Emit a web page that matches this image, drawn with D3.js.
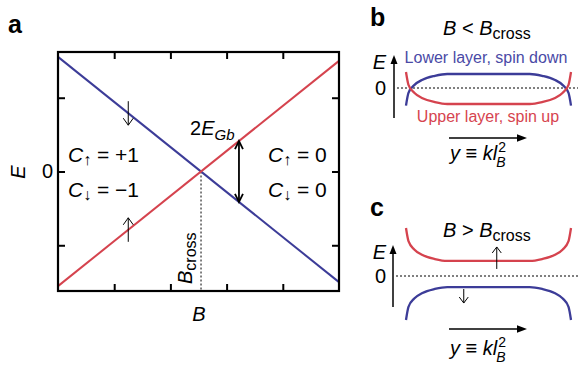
<!DOCTYPE html>
<html><head><meta charset="utf-8">
<script src="https://cdn.jsdelivr.net/npm/d3@7"></script>
<style>
html,body{margin:0;padding:0;background:#fff;}
svg text{font-family:"Liberation Sans",Arial,Helvetica,sans-serif;fill:#000;}
</style></head>
<body>
<svg id="chart" width="578" height="368"></svg>
<script>
// ---------------- DATA ----------------
// Panel a: energies of the two lines across the B range
const bField = [0, 5];
const lowerLayerE = [1.554, -1.50];   // blue (spin down)
const upperLayerE = [-1.554, 1.50];   // red (spin up)
const bCross = 2.545;
const gapB = 3.22;                    // position of the 2E_Gb arrow
const spinArrowB = [1.25, 1.25];
const spinArrowDir = ["down", "up"];
const xTicks = [1, 2, 3, 4];
const yTicks = [-1, 0, 1];
const yTickLabels = ["", "0", ""];

// Panels b, c: edge-state dispersion along y = k l_B^2
const bandK = [-1, -0.97, -0.9, -0.8, -0.65, -0.5, 0.5, 0.65, 0.8, 0.9, 0.97, 1];
const bLowerE = [-1.1, -0.31, 0.18, 0.52, 0.76, 0.875, 0.875, 0.76, 0.52, 0.18, -0.31, -1.1];
const bUpperE = [1.0, 0.2, -0.3, -0.64, -0.88, -1.0, -1.0, -0.88, -0.64, -0.3, 0.2, 1.0];
const cUpperE = [3.0, 2.18, 1.66, 1.31, 1.06, 0.94, 0.94, 1.06, 1.31, 1.66, 2.18, 3.0];
const cLowerE = [-2.75, -1.93, -1.41, -1.06, -0.81, -0.69, -0.69, -0.81, -1.06, -1.41, -1.93, -2.75];
const cSpinArrowK = [0.1, -0.3];
const cSpinArrowE = [0.94, -0.69];
const cSpinArrowDir = ["up", "down"];

// ---------------- STYLE ----------------
const BLUE = "#3c3c98";
const RED = "#d5434e";
const BLUE_TXT = "#4a4aa6";
const RED_TXT = "#d6444f";
const FONT = '"Liberation Sans",Arial,Helvetica,sans-serif';

const svg = d3.select("#chart");

function rich(g, x, y, parts, opts = {}) {
  const t = g.append("text").attr("x", x).attr("y", y)
    .attr("font-size", opts.size || 21)
    .attr("text-anchor", opts.anchor || "start");
  if (opts.transform) t.attr("transform", opts.transform).attr("x", 0).attr("y", 0);
  if (opts.fill) t.style("fill", opts.fill);
  parts.forEach(p => {
    const s = t.append("tspan").text(p.t);
    if (p.i) s.attr("font-style", "italic");
    if (p.size) s.attr("font-size", p.size);
    if (p.dy) s.attr("dy", p.dy);
    if (p.dx) s.attr("dx", p.dx);
    if (p.fill) s.style("fill", p.fill);
  });
  return t;
}
function chevron(g, x, y, dir, hw, hl, w, color) {
  const s = dir === "up" ? 1 : -1;
  g.append("path")
    .attr("d", `M${x - hw},${y + s * hl}L${x},${y}L${x + hw},${y + s * hl}`)
    .attr("fill", "none").attr("stroke", color || "#000").attr("stroke-width", w)
    .attr("stroke-linejoin", "miter");
}
function vArrow(g, x, y0, y1, w) { // y1 tip, filled head
  g.append("line").attr("x1", x).attr("x2", x).attr("y1", y0).attr("y2", y1 + 6)
    .attr("stroke", "#000").attr("stroke-width", w);
  const s = y1 < y0 ? 1 : -1;
  g.append("path").attr("d", `M${x},${y1}L${x - 3.5},${y1 + s * 9}L${x + 3.5},${y1 + s * 9}Z`).attr("fill", "#000");
}
function hArrow(g, x0, x1, y, w) {
  g.append("line").attr("x1", x0).attr("x2", x1 - 6).attr("y1", y).attr("y2", y)
    .attr("stroke", "#000").attr("stroke-width", w);
  g.append("path").attr("d", `M${x1},${y}L${x1 - 10},${y - 3.8}L${x1 - 10},${y + 3.8}Z`).attr("fill", "#000");
}

// ================= PANEL A =================
const gA = svg.append("g");
const x = d3.scaleLinear().domain([0, 5]).range([58, 339]);
const y = d3.scaleLinear().domain([-1.62, 1.62]).range([291, 52]);

gA.append("text").attr("x", 8).attr("y", 33).attr("font-size", 25).attr("font-weight", "bold").text("a");

// axes with inward ticks
const mk = (ax, tr) => {
  const a = gA.append("g").attr("transform", tr).call(ax);
  a.select(".domain").remove();
  a.selectAll(".tick line").attr("stroke", "#000").attr("stroke-width", 2);
  a.selectAll("text").attr("font-size", 20).attr("font-family", FONT).style("fill", "#000");
  return a;
};
mk(d3.axisBottom(x).tickValues(xTicks).tickSizeInner(-7).tickSizeOuter(0).tickFormat(""), `translate(0,${y.range()[0]})`);
mk(d3.axisTop(x).tickValues(xTicks).tickSizeInner(-7).tickSizeOuter(0).tickFormat(""), `translate(0,${y.range()[1]})`);
mk(d3.axisLeft(y).tickValues(yTicks).tickSizeInner(-7).tickSizeOuter(0).tickPadding(5)
  .tickFormat((d, i) => yTickLabels[i]), `translate(${x.range()[0]},0)`);
mk(d3.axisRight(y).tickValues(yTicks).tickSizeInner(-7).tickSizeOuter(0).tickFormat(""), `translate(${x.range()[1]},0)`);

// dotted line at B_cross
gA.append("line").attr("x1", x(bCross)).attr("x2", x(bCross)).attr("y1", y(0)).attr("y2", y.range()[0])
  .attr("stroke", "#000").attr("stroke-width", 1).attr("stroke-dasharray", "2,2");

const lineA = d3.line().x(d => x(d[0])).y(d => y(d[1]));
gA.append("path").datum(bField.map((b, i) => [b, lowerLayerE[i]])).attr("d", lineA)
  .attr("fill", "none").attr("stroke", BLUE).attr("stroke-width", 2);
gA.append("path").datum(bField.map((b, i) => [b, upperLayerE[i]])).attr("d", lineA)
  .attr("fill", "none").attr("stroke", RED).attr("stroke-width", 2);

// frame
gA.append("rect").attr("x", x.range()[0]).attr("y", y.range()[1])
  .attr("width", x.range()[1] - x.range()[0]).attr("height", y.range()[0] - y.range()[1])
  .attr("fill", "none").attr("stroke", "#000").attr("stroke-width", 2.2);

// spin arrows on lines
const eAt = (arr, b) => arr[0] + (arr[1] - arr[0]) * (b - bField[0]) / (bField[1] - bField[0]);
spinArrowB.forEach((b, i) => {
  const e = eAt(spinArrowDir[i] === "down" ? lowerLayerE : upperLayerE, b);
  const cx = x(b), cy = y(e);
  const top = cy - 12, bot = cy + 12;
  gA.append("line").attr("x1", cx).attr("x2", cx).attr("y1", top).attr("y2", bot)
    .attr("stroke", "#000").attr("stroke-width", 1);
  if (spinArrowDir[i] === "down") chevron(gA, cx, bot, "down", 5, 7, 1);
  else chevron(gA, cx, top, "up", 5, 7, 1);
});

// 2E_Gb double arrow
{
  const ax = x(gapB), yt = y(eAt(upperLayerE, gapB)), yb = y(eAt(lowerLayerE, gapB));
  gA.append("line").attr("x1", ax).attr("x2", ax).attr("y1", yt + 1).attr("y2", yb - 1)
    .attr("stroke", "#000").attr("stroke-width", 1.8);
  chevron(gA, ax, yt, "up", 4, 8, 1.8);
  chevron(gA, ax, yb, "down", 4, 8, 1.8);
}
rich(gA, 190, 135, [{ t: "2" }, { t: "E", i: true }, { t: "Gb", i: true, size: 15, dy: 5 }], { size: 20 });

// Chern labels
const chern = (x0, y0, arrow, val) =>
  rich(gA, x0, y0, [{ t: "C", i: true }, { t: arrow, size: 16, dy: 3 }, { t: " = " + val, dy: -3 }]);
chern(68, 162, "↑", "+1");
chern(68, 197, "↓", "−1");
chern(268, 162, "↑", "0");
chern(268, 197, "↓", "0");

// B_cross rotated
rich(gA, 0, 0, [{ t: "B", i: true }, { t: "cross", size: 16, dy: 4 }],
  { size: 20, transform: `translate(${x(bCross) - 9},284) rotate(-90)` });

// axis titles
gA.append("text").attr("x", 199).attr("y", 321).attr("font-size", 20).attr("font-style", "italic")
  .attr("text-anchor", "middle").text("B");
gA.append("text").attr("transform", "translate(25,172) rotate(-90)").attr("font-size", 20)
  .attr("font-style", "italic").attr("text-anchor", "middle").text("E");

// ================= PANELS B, C =================
const k = d3.scaleLinear().domain([-1, 1]).range([406, 571]);

function panel(g, zeroY, lowerE, upperE, label, labelY, title, titleY, eArrow, hY, yLabY) {
  const e = d3.scaleLinear().domain([-1, 1]).range([zeroY + 16, zeroY - 16]);
  g.append("text").attr("x", 370).attr("y", labelY).attr("font-size", 25).attr("font-weight", "bold").text(label);
  rich(g, 443, titleY, [{ t: "B", i: true }, { t: title }, { t: "B", i: true }, { t: "cross", size: 16, dy: 4 }], { size: 20 });
  // zero dotted line
  g.append("line").attr("x1", eArrow.x + 3).attr("x2", 578).attr("y1", zeroY).attr("y2", zeroY)
    .attr("stroke", "#000").attr("stroke-width", 1).attr("stroke-dasharray", "2,2");
  vArrow(g, eArrow.x, eArrow.y0, eArrow.y1, 1.5);
  g.append("text").attr("x", 386).attr("y", eArrow.y1 + 14).attr("font-size", 20).attr("font-style", "italic")
    .attr("text-anchor", "end").text("E");
  g.append("text").attr("x", 386).attr("y", zeroY + 7).attr("font-size", 20)
    .attr("text-anchor", "end").text("0");
  const ln = d3.line().x(d => k(d[0])).y(d => e(d[1])).curve(d3.curveMonotoneX);
  g.append("path").datum(bandK.map((kk, i) => [kk, lowerE[i]])).attr("d", ln)
    .attr("fill", "none").attr("stroke", BLUE).attr("stroke-width", 2.3);
  g.append("path").datum(bandK.map((kk, i) => [kk, upperE[i]])).attr("d", ln)
    .attr("fill", "none").attr("stroke", RED).attr("stroke-width", 2.3);
  hArrow(g, 449, 527, hY, 1.5);
  // y ≡ kl_B^2
  const t = g.append("text").attr("x", 450).attr("y", yLabY).attr("font-size", 20);
  t.append("tspan").attr("font-style", "italic").text("y");
  t.append("tspan").text(" ≡ ");
  t.append("tspan").attr("font-style", "italic").text("kl");
  const w = t.node().getComputedTextLength();
  g.append("text").attr("x", 450 + w + 1).attr("y", yLabY - 8).attr("font-size", 14).text("2");
  g.append("text").attr("x", 450 + w - 1).attr("y", yLabY + 7).attr("font-size", 14)
    .attr("font-style", "italic").text("B");
  return e;
}

const gB = svg.append("g");
panel(gB, 88, bLowerE, bUpperE, "b", 26, " < ", 35, { x: 394, y0: 118, y1: 55 }, 138, 160);
gB.append("text").attr("x", 486).attr("y", 63).attr("font-size", 16).attr("text-anchor", "middle")
  .style("fill", BLUE_TXT).text("Lower layer, spin down");
gB.append("text").attr("x", 488).attr("y", 122).attr("font-size", 16).attr("text-anchor", "middle")
  .style("fill", RED_TXT).text("Upper layer, spin up");

const gC = svg.append("g");
const eC = panel(gC, 276, cLowerE, cUpperE, "c", 216, " > ", 237, { x: 393, y0: 307, y1: 245 }, 329, 355);
cSpinArrowK.forEach((kk, i) => {
  const cx = k(kk), cy = eC(cSpinArrowE[i]);
  if (cSpinArrowDir[i] === "up") {
    gC.append("line").attr("x1", cx).attr("x2", cx).attr("y1", cy + 8).attr("y2", cy - 14).attr("stroke", "#000").attr("stroke-width", 1);
    chevron(gC, cx, cy - 14, "up", 4.5, 6, 1);
  } else {
    gC.append("line").attr("x1", cx).attr("x2", cx).attr("y1", cy + 2).attr("y2", cy + 16).attr("stroke", "#000").attr("stroke-width", 1);
    chevron(gC, cx, cy + 16, "down", 4.5, 6, 1);
  }
});
</script>
</body></html>
